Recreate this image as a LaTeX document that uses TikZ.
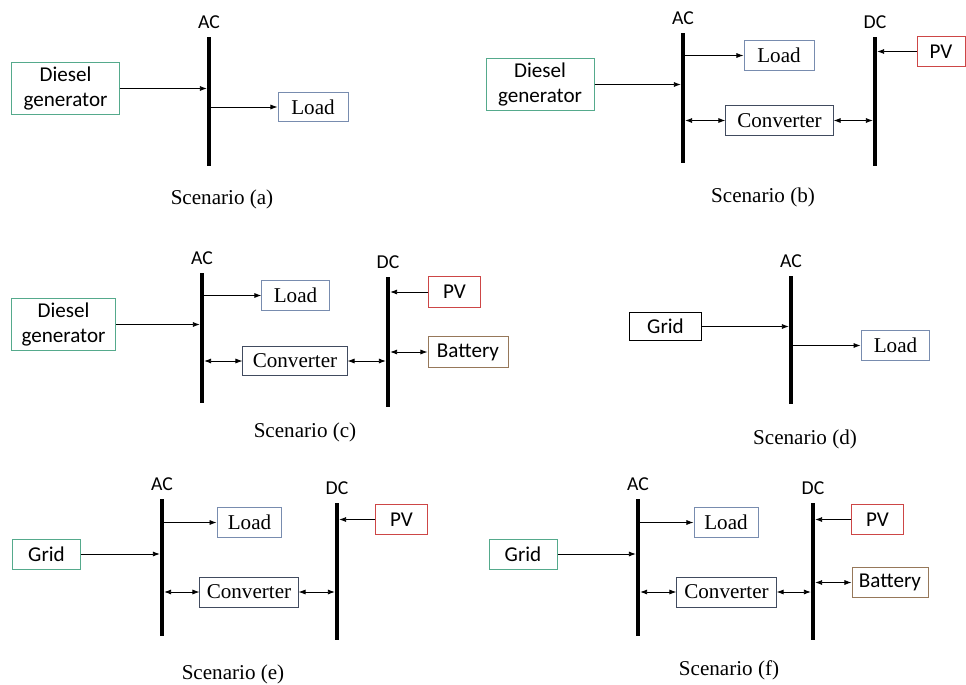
\documentclass[tikz,border=0pt]{standalone}
\usepackage{fontspec}
\setmainfont{Liberation Serif}
\newfontfamily\calib{Carlito}
\usepackage{xcolor}
\usepackage{tikz}
\usetikzlibrary{arrows.meta, positioning}

\definecolor{srcgreen}{RGB}{85,170,140}
\definecolor{loadblue}{RGB}{120,140,175}
\definecolor{pvred}{RGB}{205,70,70}
\definecolor{batbrown}{RGB}{150,120,90}
\definecolor{convgray}{RGB}{65,75,95}

\begin{document}
\begin{tikzpicture}[
    x=0.025cm, y=-0.025cm,
    src/.style={rectangle, draw=srcgreen, line width=0.7pt, inner sep=0pt, align=center, font=\calib\fontsize{15}{18}\selectfont},
    grid/.style={src, draw=black},
    load/.style={rectangle, draw=loadblue, line width=0.7pt, inner sep=0pt, font=\fontsize{15}{18}\selectfont, minimum height=0.74cm},
    conv/.style={load, draw=convgray},
    pv/.style={src, draw=pvred, minimum height=0.76cm},
    bat/.style={src, draw=batbrown, minimum height=0.76cm},
    bus/.style={rectangle, fill=black, inner sep=0pt, minimum width=2.6pt},
    buslbl/.style={inner sep=0pt, above=0.2cm of #1, font=\calib\fontsize{14}{16}\selectfont},
    scen/.style={font=\fontsize{15}{18}\selectfont},
    flow/.style={-{Latex[length=5pt,width=3.6pt]}, line width=0.6pt},
    both/.style={{Latex[length=5pt,width=3.6pt]}-{Latex[length=5pt,width=3.6pt]}, line width=0.6pt}
  ]
    \useasboundingbox (0,0) rectangle (966,684);

    % Scenario (a)
    \node (acA) [bus, minimum height=3.22cm] at (209,101.5) {};
    \node (acAl) [buslbl=acA] {AC};
    \node (dgA) [src, minimum width=2.68cm, minimum height=1.28cm] at (65.5,88.5) {Diesel\\generator};
    \node (loadA) [load, minimum width=1.75cm] at (313,107) {Load};
    \node (scA) [scen] at (222,199) {Scenario (a)};
    \draw [flow] (dgA) -- (dgA -| acA.west);
    \draw [flow] (acA.east |- loadA) -- (loadA);

    % Scenario (b)
    \node (acB) [bus, minimum height=3.25cm] at (683,98) {};
    \node (dcB) [bus, minimum height=3.22cm] at (875,101.5) {};
    \node (acBl) [buslbl=acB] {AC};
    \node (dcBl) [buslbl=dcB] {DC};
    \node (dgB) [src, minimum width=2.7cm, minimum height=1.28cm] at (540,84.5) {Diesel\\generator};
    \node (loadB) [load, minimum width=1.75cm] at (779,55.5) {Load};
    \node (convB) [conv, minimum width=2.68cm] at (779.5,120.5) {Converter};
    \node (pvB) [pv, minimum width=1.2cm] at (941,51.5) {PV};
    \node (scB) [scen] at (763,197) {Scenario (b)};
    \draw [flow] (dgB) -- (dgB -| acB.west);
    \draw [flow] (acB.east |- loadB) -- (loadB);
    \draw [both] (acB.east |- convB) -- (convB);
    \draw [both] (convB) -- (convB -| dcB.west);
    \draw [flow] (pvB) -- (pvB -| dcB.east);

    % Scenario (c)
    \node (acC) [bus, minimum height=3.25cm] at (202,338) {};
    \node (dcC) [bus, minimum height=3.25cm] at (388,342) {};
    \node (acCl) [buslbl=acC] {AC};
    \node (dcCl) [buslbl=dcC] {DC};
    \node (dgC) [src, minimum width=2.62cm, minimum height=1.28cm] at (63.5,324.5) {Diesel\\generator};
    \node (loadC) [load, minimum width=1.68cm] at (295.5,295.5) {Load};
    \node (convC) [conv, minimum width=2.6cm] at (295,361) {Converter};
    \node (pvC) [pv, minimum width=1.32cm] at (454.5,292) {PV};
    \node (batC) [bat, minimum width=2cm] at (468,352) {Battery};
    \node (scC) [scen] at (305,432) {Scenario (c)};
    \draw [flow] (dgC) -- (dgC -| acC.west);
    \draw [flow] (acC.east |- loadC) -- (loadC);
    \draw [both] (acC.east |- convC) -- (convC);
    \draw [both] (convC) -- (convC -| dcC.west);
    \draw [flow] (pvC) -- (pvC -| dcC.east);
    \draw [both] (dcC.east |- batC) -- (batC);

    % Scenario (d)
    \node (acD) [bus, minimum height=3.2cm] at (791,340) {};
    \node (acDl) [buslbl=acD] {AC};
    \node (gridD) [grid, minimum width=1.82cm, minimum height=0.72cm] at (665.5,326.5) {Grid};
    \node (loadD) [load, minimum width=1.72cm] at (895.5,345.5) {Load};
    \node (scD) [scen] at (805,439) {Scenario (d)};
    \draw [flow] (gridD) -- (gridD -| acD.west);
    \draw [flow] (acD.east |- loadD) -- (loadD);

    % Scenario (e)
    \node (acE) [bus, minimum height=3.42cm] at (162,567.5) {};
    \node (dcE) [bus, minimum height=3.42cm] at (337,571.5) {};
    \node (acEl) [buslbl=acE] {AC};
    \node (dcEl) [buslbl=dcE] {DC};
    \node (gridE) [src, minimum width=1.68cm, minimum height=0.75cm] at (46.5,554) {Grid};
    \node (loadE) [load, minimum width=1.62cm, minimum height=0.77cm] at (249.5,522.5) {Load};
    \node (convE) [conv, minimum width=2.45cm, minimum height=0.75cm] at (249,592) {Converter};
    \node (pvE) [pv, minimum width=1.28cm] at (401.5,519.5) {PV};
    \node (scE) [scen] at (233,674) {Scenario (e)};
    \draw [flow] (gridE) -- (gridE -| acE.west);
    \draw [flow] (acE.east |- loadE) -- (loadE);
    \draw [both] (acE.east |- convE) -- (convE);
    \draw [both] (convE) -- (convE -| dcE.west);
    \draw [flow] (pvE) -- (pvE -| dcE.east);

    % Scenario (f)
    \node (acF) [bus, minimum height=3.42cm] at (638,567.5) {};
    \node (dcF) [bus, minimum height=3.42cm] at (813,571.5) {};
    \node (acFl) [buslbl=acF] {AC};
    \node (dcFl) [buslbl=dcF] {DC};
    \node (gridF) [src, minimum width=1.7cm, minimum height=0.75cm] at (523,554) {Grid};
    \node (loadF) [load, minimum width=1.6cm, minimum height=0.77cm] at (726,522.5) {Load};
    \node (convF) [conv, minimum width=2.48cm, minimum height=0.75cm] at (726.5,592) {Converter};
    \node (pvF) [pv, minimum width=1.28cm] at (877.5,519.5) {PV};
    \node (batF) [bat, minimum width=1.9cm] at (890,582.5) {Battery};
    \node (scF) [scen] at (729,670) {Scenario (f)};
    \draw [flow] (gridF) -- (gridF -| acF.west);
    \draw [flow] (acF.east |- loadF) -- (loadF);
    \draw [both] (acF.east |- convF) -- (convF);
    \draw [both] (convF) -- (convF -| dcF.west);
    \draw [flow] (pvF) -- (pvF -| dcF.east);
    \draw [both] (dcF.east |- batF) -- (batF);

  \end{tikzpicture}
\end{document}
